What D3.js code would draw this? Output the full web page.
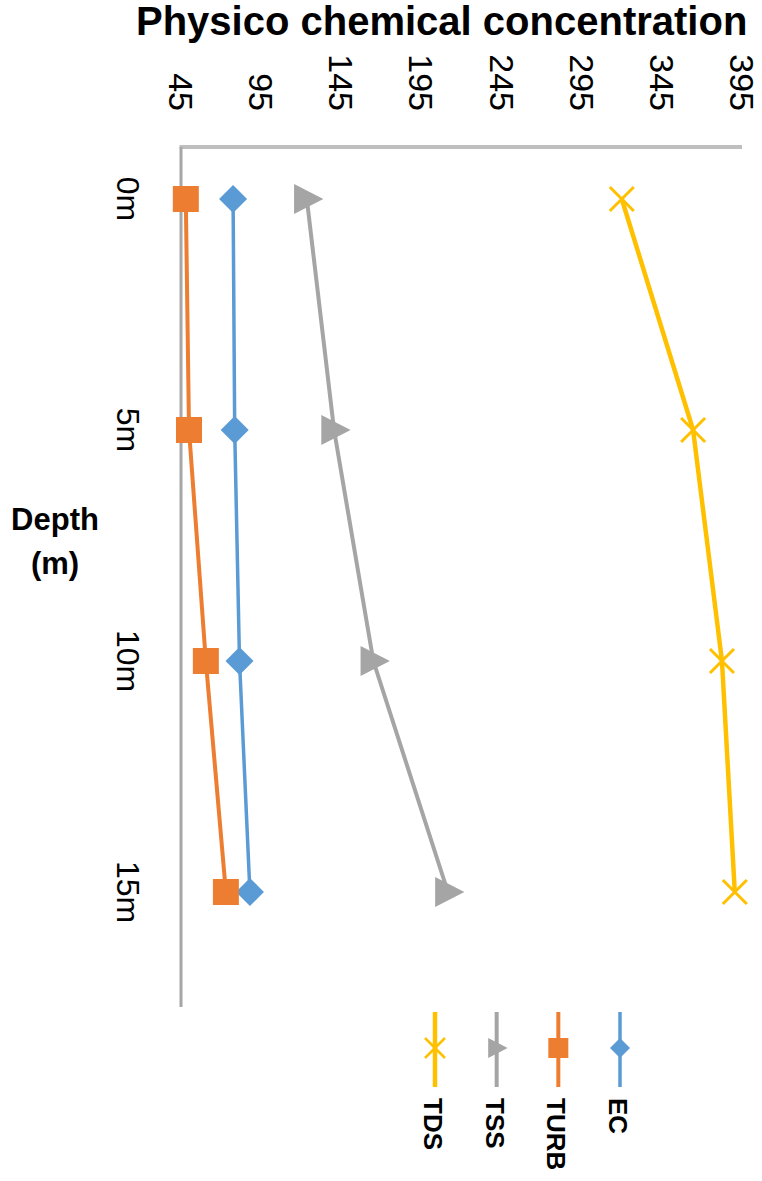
<!DOCTYPE html>
<html>
<head>
<meta charset="utf-8">
<script src="https://cdn.jsdelivr.net/npm/d3@7"></script>
<style>
  html, body { margin: 0; padding: 0; background: #ffffff; }
  svg { display: block; font-family: "Liberation Sans", Arial, sans-serif; }
</style>
</head>
<body>
<div id="chart"></div>
<script>
// ---- data ----
const depths = ["0m", "5m", "10m", "15m"];
const ecValues   = [77.5, 78.5, 81.5, 88];
const turbValues = [48, 50, 60.5, 73];
const tssValues  = [123.5, 140.5, 165, 211.5];
const tdsValues  = [320, 364.5, 382.5, 390.5];
const tickValues = [45, 95, 145, 195, 245, 295, 345, 395];
const seriesNames = ["EC", "TURB", "TSS", "TDS"];
const legendOrder = ["TDS", "TSS", "TURB", "EC"];
const titleText = "Physico chemical concentration";
const depthLabel = ["Depth", "(m)"];

const W = 762, H = 1181;
const series = [
  { name: "EC",   values: ecValues,   color: "#5B9BD5", width: 3.5, marker: "diamond" },
  { name: "TURB", values: turbValues, color: "#ED7D31", width: 4,   marker: "square" },
  { name: "TSS",  values: tssValues,  color: "#A5A5A5", width: 4,   marker: "triangle" },
  { name: "TDS",  values: tdsValues,  color: "#FFC000", width: 4.5, marker: "x" }
];

const svg = d3.select("#chart").append("svg")
  .attr("width", W).attr("height", H);

const x = d3.scaleLinear().domain([45, 395]).range([181, 742]);
const y = d3.scalePoint().domain(depths).range([199, 892]);

// title
svg.append("text")
  .attr("x", 136).attr("y", 35)
  .attr("font-size", 40).attr("font-weight", "bold")
  .attr("fill", "#000")
  .text(titleText);

// top value axis (rotated labels)
const axisTop = svg.append("g");
axisTop.append("line")
  .attr("x1", x(45) - 1.5).attr("x2", x(395))
  .attr("y1", 147).attr("y2", 147)
  .attr("stroke", "#BFBFBF").attr("stroke-width", 4);
axisTop.selectAll("text.tick").data(tickValues).enter().append("text")
  .attr("class", "tick")
  .attr("transform", d => `translate(${x(d)},111) rotate(90)`)
  .attr("text-anchor", "end")
  .attr("dominant-baseline", "central")
  .attr("font-size", 34)
  .attr("fill", "#000")
  .text(d => d);

// left category axis
svg.append("line")
  .attr("x1", x(45)).attr("x2", x(45))
  .attr("y1", 147).attr("y2", 1007)
  .attr("stroke", "#A6A6A6").attr("stroke-width", 3);
svg.selectAll("text.cat").data(depths).enter().append("text")
  .attr("class", "cat")
  .attr("transform", d => `translate(128,${y(d)}) rotate(90)`)
  .attr("text-anchor", "middle")
  .attr("dominant-baseline", "central")
  .attr("font-size", 32)
  .attr("fill", "#000")
  .text(d => d);

// depth axis title
svg.append("text")
  .attr("x", 55).attr("y", 502)
  .attr("text-anchor", "middle")
  .attr("font-size", 31).attr("font-weight", "bold")
  .selectAll("tspan").data(depthLabel).enter().append("tspan")
  .attr("x", 55).attr("dy", (d, i) => i === 0 ? 28 : 44)
  .text(d => d);

// marker path generator
function markerPath(type, s) {
  if (type === "square") return `M${-s},${-s}H${s}V${s}H${-s}Z`;
  if (type === "diamond") return `M0,${-s}L${s},0L0,${s}L${-s},0Z`;
  if (type === "triangle") return `M${-s*0.85},${-s}L${s*1.1},0L${-s*0.85},${s}Z`;
  if (type === "x") return `M${-s},${-s}L${s},${s}M${s},${-s}L${-s},${s}`;
  return "";
}

const line = d3.line().x(d => x(d.v)).y(d => y(d.c));

series.forEach(s => {
  const pts = s.values.map((v, i) => ({ v, c: depths[i] }));
  const g = svg.append("g");
  g.append("path")
    .datum(pts)
    .attr("d", line)
    .attr("fill", "none")
    .attr("stroke", s.color)
    .attr("stroke-width", s.width)
    .attr("stroke-linejoin", "round");
  const size = s.marker === "square" ? 13 : s.marker === "diamond" ? 14 : s.marker === "triangle" ? 15 : 12;
  g.selectAll("path.m").data(pts).enter().append("path")
    .attr("class", "m")
    .attr("transform", d => `translate(${x(d.v)},${y(d.c)})`)
    .attr("d", markerPath(s.marker, size))
    .attr("fill", s.marker === "x" ? "none" : s.color)
    .attr("stroke", s.marker === "x" ? s.color : "none")
    .attr("stroke-width", 3);
});

// legend (rotated)
const legendX = d3.scalePoint().domain(legendOrder).range([435, 620]);
const lg = svg.append("g");
legendOrder.forEach(name => {
  const s = series.find(d => d.name === name);
  const cx = legendX(name);
  lg.append("line")
    .attr("x1", cx).attr("x2", cx)
    .attr("y1", 1012).attr("y2", 1087)
    .attr("stroke", s.color).attr("stroke-width", s.width);
  const size = 10;
  lg.append("path")
    .attr("transform", `translate(${cx},1048)`)
    .attr("d", markerPath(s.marker, size))
    .attr("fill", s.marker === "x" ? "none" : s.color)
    .attr("stroke", s.marker === "x" ? s.color : "none")
    .attr("stroke-width", 2.5);
  lg.append("text")
    .attr("transform", `translate(${cx - 2},1098) rotate(90)`)
    .attr("text-anchor", "start")
    .attr("dominant-baseline", "central")
    .attr("font-size", 26).attr("font-weight", "bold")
    .attr("fill", "#000")
    .text(name);
});
</script>
</body>
</html>
